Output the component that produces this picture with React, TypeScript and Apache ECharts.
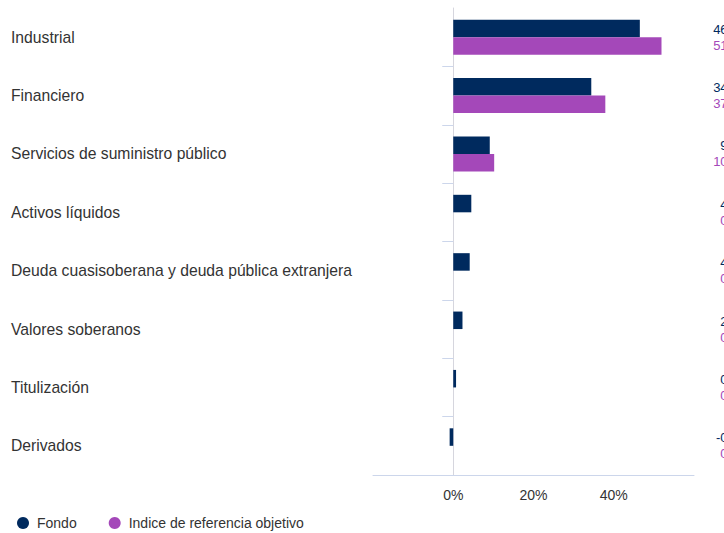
import React, { useEffect, useRef } from "react";
import * as echarts from "echarts";

const categories = [
  "Industrial",
  "Financiero",
  "Servicios de suministro público",
  "Activos líquidos",
  "Deuda cuasisoberana y deuda pública extranjera",
  "Valores soberanos",
  "Titulización",
  "Derivados",
];
const fondo = [46.5, 34.4, 9.1, 4.5, 4.1, 2.3, 0.7, -0.9];
const indice = [51.9, 37.9, 10.2, 0, 0, 0, 0, 0];
const xTicks = [-20, 0, 20, 40, 60];
const shownTicks = [0, 20, 40];

const NAVY = "#002a5e";
const PURPLE = "#a448b9";

export default function App() {
  const ref = useRef<HTMLDivElement>(null);
  useEffect(() => {
    if (!ref.current) return;
    const chart = echarts.init(ref.current, undefined, { renderer: "svg" });
    const fmt = (v: number) => v.toFixed(1) + "%";
    chart.setOption({
      animation: false,
      textStyle: { fontFamily: "Liberation Sans, Arial, sans-serif" },
      grid: {
        left: 373,
        right: 30,
        top: 8,
        bottom: 58,
        containLabel: false,
        outerBoundsMode: "none",
      },
      legend: {
        left: 12,
        top: 511,
        icon: "circle",
        itemWidth: 12,
        itemHeight: 12,
        itemGap: 32,
        textStyle: { fontSize: 14, color: "#333333", padding: [0, 0, 0, 3] },
        data: ["Fondo", "Indice de referencia objetivo"],
      },
      xAxis: {
        type: "value",
        min: xTicks[0],
        max: xTicks[xTicks.length - 1],
        interval: 20,
        axisLine: { show: true, lineStyle: { color: "#ccd6eb" } },
        axisTick: { show: false },
        splitLine: { show: false },
        axisLabel: {
          fontSize: 14,
          color: "#333333",
          margin: 13,
          formatter: (v: number) => (shownTicks.includes(v) ? v + "%" : ""),
        },
      },
      yAxis: [
        {
          type: "category",
          data: categories,
          inverse: true,
          axisLine: { show: true, lineStyle: { color: "#d6d6de" } },
          axisTick: {
            show: true,
            length: 11,
            lineStyle: { color: "#ccd6eb" },
            interval: (i: number) => i !== 0,
          },
          axisLabel: {
            align: "left",
            margin: 362,
            fontSize: 15.7,
            color: "#333333",
          },
        },
        {
          type: "category",
          data: categories,
          inverse: true,
          position: "right",
          axisLine: { show: false },
          axisTick: { show: false },
          axisLabel: {
            align: "right",
            margin: 56,
            formatter: (_v: string, i: number) =>
              `{a|${fmt(fondo[i])}}\n{b|${fmt(indice[i])}}`,
            rich: {
              a: { fontSize: 13, color: NAVY, lineHeight: 16, align: "right" },
              b: { fontSize: 13, color: PURPLE, lineHeight: 16, align: "right" },
            },
          },
        },
      ],
      series: [
        {
          name: "Fondo",
          type: "bar",
          data: fondo,
          itemStyle: { color: NAVY },
          barGap: "0%",
          barCategoryGap: "40%",
        },
        {
          name: "Indice de referencia objetivo",
          type: "bar",
          data: indice,
          itemStyle: { color: PURPLE },
          barGap: "0%",
          barCategoryGap: "40%",
        },
      ],
    });
    return () => chart.dispose();
  }, []);
  return (
    <div
      ref={ref}
      style={{ position: "absolute", left: 0, top: 0, width: 724, height: 533 }}
    />
  );
}
